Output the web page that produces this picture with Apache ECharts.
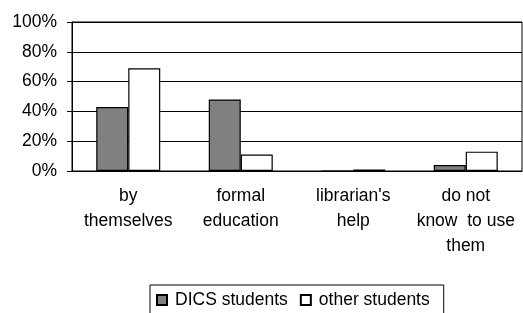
<!DOCTYPE html>
<html>
<head>
<meta charset="utf-8">
<script src="https://cdn.jsdelivr.net/npm/echarts@6/dist/echarts.min.js"></script>
</head>
<body style="margin:0; background:#fff;">
<div id="chart" style="width:523px; height:313px;"></div>
<script type="text/javascript">
    const categories = ['by\nthemselves', 'formal\neducation', "librarian's\nhelp", 'do not\nknow  to use\nthem'];
    const dicsStudents = [43, 48, 0, 4];
    const otherStudents = [69, 11, 1, 13];
    const yTicks = [0, 20, 40, 60, 80, 100];

    const chart = echarts.init(document.getElementById('chart'));
    const font = '"Liberation Sans", Arial, sans-serif';

    chart.setOption({
        animation: false,
        grid: {
            left: 72, right: 1, top: 22, bottom: 142,
            show: true, borderColor: '#000', borderWidth: 1
        },
        legend: {
            left: 150, top: 285,
            data: ['DICS students', 'other students'],
            itemWidth: 10, itemHeight: 10, itemGap: 12,
            icon: 'rect',
            borderColor: '#000', borderWidth: 1,
            padding: [6, 14, 12, 6],
            textStyle: { fontFamily: font, fontSize: 17.5, color: '#000', padding: [0, 0, 0, 3] }
        },
        xAxis: {
            type: 'category',
            data: categories,
            axisLine: { lineStyle: { color: '#000' } },
            axisTick: { length: 5, lineStyle: { color: '#000' } },
            axisLabel: {
                margin: 13, color: '#000', fontFamily: font, fontSize: 17.5, lineHeight: 25,
                interval: 0
            }
        },
        yAxis: {
            type: 'value',
            min: yTicks[0], max: yTicks[yTicks.length - 1], interval: 20,
            axisLine: { show: true, lineStyle: { color: '#000' } },
            axisTick: { show: true, length: 5, lineStyle: { color: '#000' } },
            splitLine: { lineStyle: { color: '#000' } },
            axisLabel: {
                margin: 15, color: '#000', fontFamily: font, fontSize: 17.5,
                formatter: '{value}%'
            }
        },
        series: [{
            name: 'DICS students',
            type: 'bar',
            barWidth: 32,
            barGap: '0%',
            data: dicsStudents,
            itemStyle: { color: '#808080', borderColor: '#000', borderWidth: 1.2 }
        }, {
            name: 'other students',
            type: 'bar',
            barWidth: 32,
            barGap: '0%',
            data: otherStudents,
            itemStyle: { color: '#fff', borderColor: '#000', borderWidth: 1.2 }
        }]
    });
</script>
</body>
</html>
